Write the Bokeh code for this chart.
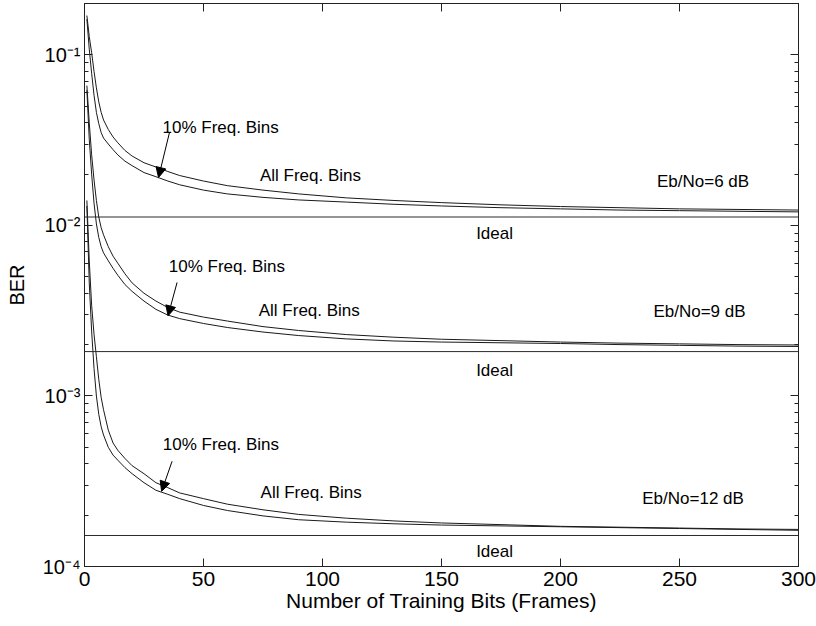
from bokeh.plotting import figure
from bokeh.models import (Range1d, LinearAxis, LogAxis, FixedTicker,
                          CustomJSTickFormatter, Arrow, NormalHead, ColumnDataSource)
from bokeh.core.properties import value
from bokeh.embed import file_html
from bokeh.resources import INLINE

# ---------------- data ----------------
X = [1, 2, 3, 4, 5, 6, 7, 8, 10, 12, 14, 17, 20, 25, 30, 35, 40, 50, 60, 75, 90,
     110, 130, 150, 175, 200, 225, 250, 275, 300]

# Eb/No = 6 dB
U6 = [0.170, 0.128, 0.103, 0.080, 0.064, 0.053, 0.046, 0.0415, 0.0365, 0.0330,
      0.0305, 0.0275, 0.0255, 0.0233, 0.0220, 0.0207, 0.0196, 0.0182, 0.0171,
      0.0161, 0.0153, 0.0145, 0.0140, 0.0136, 0.0132, 0.0129, 0.0127, 0.0125,
      0.0124, 0.0123]
L6 = [0.162, 0.108, 0.078, 0.058, 0.046, 0.0395, 0.035, 0.0325, 0.0300, 0.0278,
      0.0259, 0.0238, 0.0224, 0.0204, 0.0193, 0.0182, 0.0173, 0.0161, 0.0153,
      0.0146, 0.0141, 0.0137, 0.0133, 0.0130, 0.0127, 0.0125, 0.0123, 0.0122,
      0.0121, 0.0120]
# Eb/No = 9 dB
U9 = [0.066, 0.040, 0.026, 0.0185, 0.0140, 0.0112, 0.0097, 0.0088, 0.0075, 0.0066,
      0.0060, 0.0052, 0.0046, 0.0040, 0.0036, 0.0033, 0.0031, 0.0029, 0.00275,
      0.00255, 0.00242, 0.00229, 0.00221, 0.00215, 0.00211, 0.00207, 0.00204,
      0.00202, 0.00200, 0.00199]
L9 = [0.062, 0.032, 0.020, 0.0135, 0.0102, 0.0085, 0.0075, 0.0069, 0.0062, 0.0056,
      0.0051, 0.0045, 0.0041, 0.0036, 0.00322, 0.00298, 0.00284, 0.00266, 0.00252,
      0.00237, 0.00226, 0.00216, 0.00210, 0.00207, 0.00205, 0.00203, 0.00200,
      0.00198, 0.00196, 0.00195]
# Eb/No = 12 dB
U12 = [0.0140, 0.0062, 0.0034, 0.0023, 0.00170, 0.00125, 0.00098, 0.00083, 0.00063,
       0.00053, 0.00048, 0.00043, 0.00039, 0.00035, 0.00031, 0.00029, 0.00027,
       0.00025, 0.000232, 0.000215, 0.000202, 0.000192, 0.000185, 0.000180,
       0.000176, 0.000172, 0.000170, 0.000168, 0.000166, 0.000165]
L12 = [0.0130, 0.0046, 0.0024, 0.00145, 0.00100, 0.00078, 0.00066, 0.00059, 0.00050,
       0.00045, 0.00042, 0.00038, 0.00035, 0.00031, 0.00028, 0.000265, 0.00025,
       0.000228, 0.000213, 0.000198, 0.000188, 0.000182, 0.000178, 0.000175,
       0.000173, 0.000171, 0.000169, 0.000167, 0.000165, 0.000163]

IDEAL = [0.0112, 0.00182, 0.000152]
IDEAL_X = [0, 300]

X_TICKS = [0, 50, 100, 150, 200, 250, 300]
Y_TICKS = [1e-4, 1e-3, 1e-2, 1e-1]

SNR_LABELS = ["Eb/No=6 dB", "Eb/No=9 dB", "Eb/No=12 dB"]

# ---------------- figure ----------------
FONT = "Liberation Sans"

p = figure(width=816, height=626, x_range=Range1d(0, 300), y_range=Range1d(1e-4, 0.2),
           y_axis_type="log", output_backend="svg", toolbar_location=None,
           min_border_left=84, min_border_right=18, min_border_top=3,
           min_border_bottom=60, background_fill_color="white",
           border_fill_color="white")
p.grid.visible = False
p.outline_line_color = "#222222"

minor = [m * d for d in [1e-4, 1e-3, 1e-2, 1e-1] for m in range(2, 10) if m * d <= 0.2]

sup_code = """
const e = Math.round(Math.log10(tick));
const m = {"-":"⁻","0":"⁰","1":"¹","2":"²","3":"³","4":"⁴","5":"⁵","6":"⁶","7":"⁷","8":"⁸","9":"⁹"};
return "10" + String(e).split("").map(c => m[c]).join("");
"""


def style_axis(ax, minor_ticks=True):
    ax.axis_line_color = "#222222"
    ax.major_tick_line_color = "#222222"
    ax.major_tick_in = 8
    ax.major_tick_out = 0
    if minor_ticks:
        ax.minor_tick_line_color = "#222222"
        ax.minor_tick_in = 4
        ax.minor_tick_out = 0
    else:
        ax.minor_tick_line_color = None
    ax.major_label_text_font = FONT
    ax.major_label_text_font_size = "21px"
    ax.major_label_text_color = "black"
    ax.axis_label_text_font = FONT
    ax.axis_label_text_font_size = "21px"
    ax.axis_label_text_font_style = "normal"
    ax.axis_label_text_color = "black"


xa = p.xaxis[0]
xa.ticker = FixedTicker(ticks=X_TICKS)
style_axis(xa, minor_ticks=False)
xa.major_label_standoff = 5
xa.axis_label = "Number of Training Bits (Frames)"
xa.axis_label_standoff = 0

ya = p.yaxis[0]
ya.ticker = FixedTicker(ticks=Y_TICKS, minor_ticks=minor)
ya.formatter = CustomJSTickFormatter(code=sup_code)
style_axis(ya)
ya.major_label_text_font_size = "20px"
ya.axis_label_text_font_size = "20px"
ya.major_label_standoff = 4
ya.axis_label = "BER"
ya.axis_label_standoff = 12

top = LinearAxis(ticker=FixedTicker(ticks=X_TICKS),
                 formatter=CustomJSTickFormatter(code="return '';"))
style_axis(top, minor_ticks=False)
top.major_label_text_font_size = "0px"
top.major_label_standoff = 0
p.add_layout(top, "above")

right = LogAxis(ticker=FixedTicker(ticks=Y_TICKS, minor_ticks=minor),
                formatter=CustomJSTickFormatter(code="return '';"))
style_axis(right)
right.major_label_text_font_size = "0px"
right.major_label_standoff = 0
p.add_layout(right, "right")

# ---------------- curves ----------------
LC = "#1a1a1a"
for series in (U6, L6, U9, L9, U12, L12):
    p.line(X, series, line_color=LC, line_width=1)

for lvl in IDEAL:
    p.line(IDEAL_X, [lvl, lvl], line_color="#2a2a2a", line_width=1)

# ---------------- annotations ----------------
bins10 = ColumnDataSource(dict(x=[32.8, 35.4, 32.9], y=[0.0375, 5.72e-3, 5.19e-4],
                               t=["10% Freq. Bins"] * 3))
p.text(x="x", y="y", text="t", source=bins10, text_font=value(FONT),
       text_font_size="17px", text_align="left", text_baseline="middle",
       text_color="black")

binsall = ColumnDataSource(dict(x=[73.7, 73.2, 74.0], y=[0.0197, 3.16e-3, 2.70e-4],
                                t=["All Freq. Bins"] * 3))
p.text(x="x", y="y", text="t", source=binsall, text_font=value(FONT),
       text_font_size="17px", text_align="left", text_baseline="middle",
       text_color="black")

ideal_src = ColumnDataSource(dict(x=[172.3] * 3, y=[8.93e-3, 1.41e-3, 1.22e-4],
                                  t=["Ideal"] * 3))
p.text(x="x", y="y", text="t", source=ideal_src, text_font=value(FONT),
       text_font_size="17px", text_align="center", text_baseline="middle",
       text_color="black")

snr_src = ColumnDataSource(dict(x=[259.9, 258.4, 255.7], y=[0.0180, 3.12e-3, 2.51e-4],
                                t=SNR_LABELS))
p.text(x="x", y="y", text="t", source=snr_src, text_font=value(FONT),
       text_font_size="17px", text_align="center", text_baseline="middle",
       text_color="black")

arrows = [((35.7, 0.0350), (31.1, 0.0191)),
          ((38.9, 4.63e-3), (35.1, 2.95e-3)),
          ((36.8, 4.14e-4), (32.4, 2.76e-4))]
for (xs, ys), (xe, ye) in arrows:
    p.add_layout(Arrow(x_start=xs, y_start=ys, x_end=xe, y_end=ye,
                       line_color="black", line_width=1,
                       end=NormalHead(size=10, fill_color="black", line_color="black")))

open("out.html", "w").write(file_html(p, INLINE))
